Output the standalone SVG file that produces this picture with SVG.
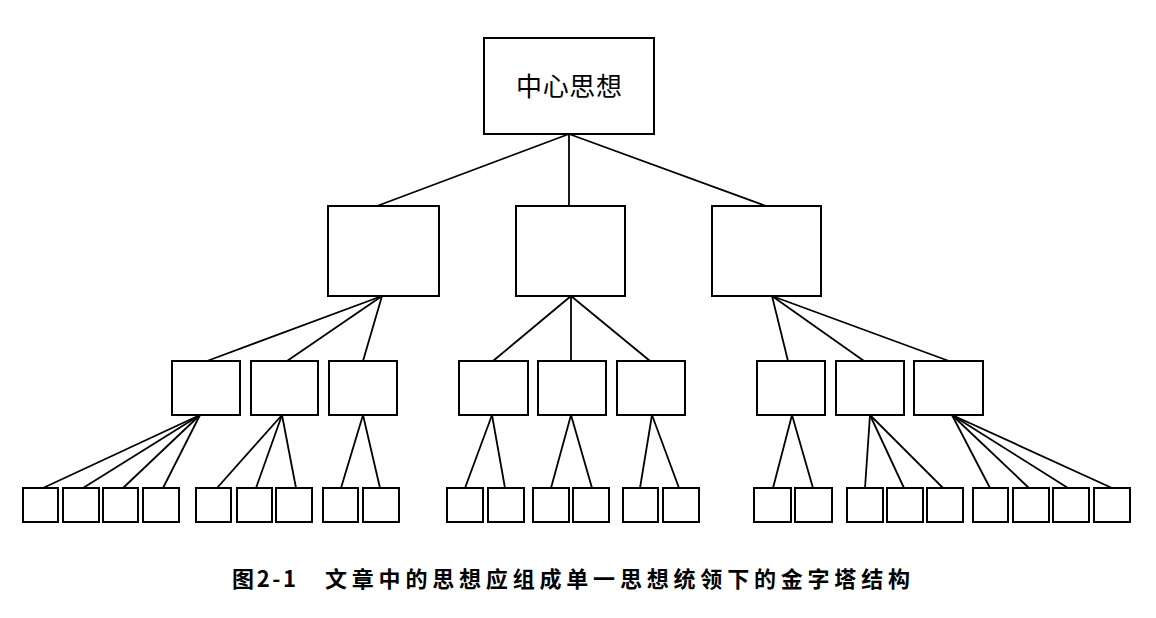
<svg xmlns="http://www.w3.org/2000/svg" width="1156" height="618" viewBox="0 0 1156 618">
<style>
.b{fill:#fff;stroke:#000;stroke-width:2}
.c line{stroke:#000;stroke-width:1.8}
.t{font-family:"Noto Sans CJK SC","Noto Sans",sans-serif;fill:#000}
.cap{font-family:"Noto Sans CJK SC","Noto Sans",sans-serif;font-weight:bold;font-size:22px;fill:#000}
</style>
<rect width="1156" height="618" fill="#fff"/>
<g id="connectors" class="c">
<line x1="569" y1="134" x2="377" y2="206"/>
<line x1="569" y1="134" x2="569" y2="206"/>
<line x1="569" y1="134" x2="766" y2="206"/>
<line x1="382" y1="296" x2="207" y2="361"/>
<line x1="382" y1="296" x2="287" y2="361"/>
<line x1="382" y1="296" x2="363" y2="361"/>
<line x1="571" y1="296" x2="493" y2="361"/>
<line x1="571" y1="296" x2="571" y2="361"/>
<line x1="571" y1="296" x2="650" y2="361"/>
<line x1="772" y1="296" x2="788" y2="361"/>
<line x1="772" y1="296" x2="864" y2="361"/>
<line x1="772" y1="296" x2="949" y2="361"/>
<line x1="200" y1="415" x2="43" y2="488"/>
<line x1="200" y1="415" x2="83" y2="488"/>
<line x1="200" y1="415" x2="123" y2="488"/>
<line x1="200" y1="415" x2="163" y2="488"/>
<line x1="282" y1="415" x2="217" y2="488"/>
<line x1="282" y1="415" x2="256" y2="488"/>
<line x1="282" y1="415" x2="296" y2="488"/>
<line x1="363" y1="415" x2="341" y2="488"/>
<line x1="363" y1="415" x2="380" y2="488"/>
<line x1="492" y1="415" x2="465" y2="488"/>
<line x1="492" y1="415" x2="505" y2="488"/>
<line x1="571" y1="415" x2="551" y2="488"/>
<line x1="571" y1="415" x2="592" y2="488"/>
<line x1="652" y1="415" x2="640" y2="488"/>
<line x1="652" y1="415" x2="679" y2="488"/>
<line x1="792" y1="415" x2="773" y2="488"/>
<line x1="792" y1="415" x2="813" y2="488"/>
<line x1="870" y1="415" x2="865" y2="488"/>
<line x1="870" y1="415" x2="904" y2="488"/>
<line x1="870" y1="415" x2="943" y2="488"/>
<line x1="952" y1="415" x2="990" y2="488"/>
<line x1="952" y1="415" x2="1029" y2="488"/>
<line x1="952" y1="415" x2="1068" y2="488"/>
<line x1="952" y1="415" x2="1112" y2="488"/>
</g>
<g id="root"><rect class="b" x="484" y="38" width="170" height="96"/><text class="t" x="569" y="96" font-size="26" text-anchor="middle" textLength="106" lengthAdjust="spacing">中心思想</text></g>
<g id="l2-1"><rect class="b" x="328" y="206" width="111" height="90"/></g>
<g id="l2-2"><rect class="b" x="516" y="206" width="109" height="90"/></g>
<g id="l2-3"><rect class="b" x="712" y="206" width="109" height="90"/></g>
<g id="l3-a"><rect class="b" x="172" y="361" width="68" height="54"/></g>
<g id="l3-b"><rect class="b" x="251" y="361" width="67" height="54"/></g>
<g id="l3-c"><rect class="b" x="329" y="361" width="68" height="54"/></g>
<g id="l3-d"><rect class="b" x="459" y="361" width="69" height="54"/></g>
<g id="l3-e"><rect class="b" x="538" y="361" width="68" height="54"/></g>
<g id="l3-f"><rect class="b" x="617" y="361" width="68" height="54"/></g>
<g id="l3-g"><rect class="b" x="757" y="361" width="68" height="54"/></g>
<g id="l3-h"><rect class="b" x="836" y="361" width="68" height="54"/></g>
<g id="l3-i"><rect class="b" x="914" y="361" width="69" height="54"/></g>
<g id="leaf-a1"><rect class="b" x="23" y="488" width="35" height="34"/></g>
<g id="leaf-a2"><rect class="b" x="63" y="488" width="36" height="34"/></g>
<g id="leaf-a3"><rect class="b" x="103" y="488" width="35" height="34"/></g>
<g id="leaf-a4"><rect class="b" x="143" y="488" width="36" height="34"/></g>
<g id="leaf-b1"><rect class="b" x="196" y="488" width="35" height="34"/></g>
<g id="leaf-b2"><rect class="b" x="237" y="488" width="35" height="34"/></g>
<g id="leaf-b3"><rect class="b" x="276" y="488" width="36" height="34"/></g>
<g id="leaf-c1"><rect class="b" x="323" y="488" width="35" height="34"/></g>
<g id="leaf-c2"><rect class="b" x="363" y="488" width="36" height="34"/></g>
<g id="leaf-d1"><rect class="b" x="447" y="488" width="36" height="34"/></g>
<g id="leaf-d2"><rect class="b" x="488" y="488" width="36" height="34"/></g>
<g id="leaf-e1"><rect class="b" x="533" y="488" width="36" height="34"/></g>
<g id="leaf-e2"><rect class="b" x="573" y="488" width="36" height="34"/></g>
<g id="leaf-f1"><rect class="b" x="623" y="488" width="35" height="34"/></g>
<g id="leaf-f2"><rect class="b" x="663" y="488" width="36" height="34"/></g>
<g id="leaf-g1"><rect class="b" x="754" y="488" width="37" height="34"/></g>
<g id="leaf-g2"><rect class="b" x="795" y="488" width="37" height="34"/></g>
<g id="leaf-h1"><rect class="b" x="847" y="488" width="36" height="34"/></g>
<g id="leaf-h2"><rect class="b" x="887" y="488" width="36" height="34"/></g>
<g id="leaf-h3"><rect class="b" x="927" y="488" width="36" height="34"/></g>
<g id="leaf-i1"><rect class="b" x="973" y="488" width="35" height="34"/></g>
<g id="leaf-i2"><rect class="b" x="1013" y="488" width="36" height="34"/></g>
<g id="leaf-i3"><rect class="b" x="1053" y="488" width="36" height="34"/></g>
<g id="leaf-i4"><rect class="b" x="1094" y="488" width="36" height="34"/></g>
<g id="caption">
<text class="cap" x="232" y="587" textLength="64" lengthAdjust="spacing">图2-1</text>
<text class="cap" x="325" y="587" textLength="585" lengthAdjust="spacing">文章中的思想应组成单一思想统领下的金字塔结构</text>
</g>
</svg>
